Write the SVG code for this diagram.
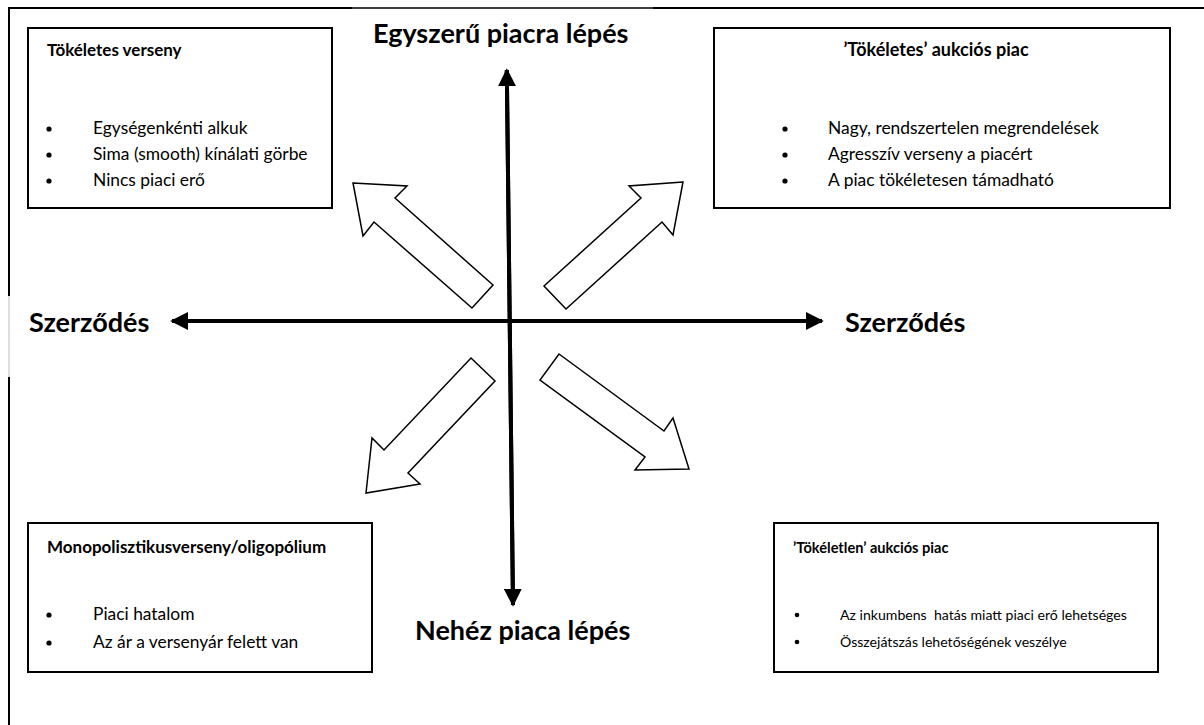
<svg xmlns="http://www.w3.org/2000/svg" width="1204" height="725" viewBox="0 0 1204 725">
<style>
text{font-family:Lato,"Liberation Sans",sans-serif;fill:#000}
.h{font-size:17px;font-weight:bold}
.h2{font-size:18px;font-weight:bold}
.t{font-size:17.4px}
.s{font-size:14.1px}
.sh{font-size:14.6px;font-weight:bold}
.big{font-size:27px;font-weight:bold}
.box{fill:#fff;stroke:#000;stroke-width:2}
.blk{fill:#fff;stroke:#000;stroke-width:1.5;stroke-linejoin:miter}
.axis{stroke:#000;stroke-width:4;fill:none}
</style>
<defs>
<marker id="ah" viewBox="0 0 10 10" refX="9" refY="5" markerWidth="4.5" markerHeight="4.5" markerUnits="strokeWidth" orient="auto">
<path d="M0,0 L10,5 L0,10 Z" fill="#000"/>
</marker>
</defs>
<rect width="1204" height="725" fill="#fff"/>
<g id="frame">
<line x1="9" y1="8" x2="9" y2="296" stroke="#000" stroke-width="2"/>
<line x1="9" y1="296" x2="9" y2="377" stroke="#bbb" stroke-width="1"/>
<line x1="9" y1="377" x2="9" y2="725" stroke="#000" stroke-width="2"/>
<line x1="8" y1="8" x2="352" y2="8" stroke="#000" stroke-width="2"/>
<line x1="352" y1="8" x2="653" y2="8" stroke="#000" stroke-width="1.5"/>
<line x1="653" y1="8" x2="1204" y2="8" stroke="#000" stroke-width="2"/>
</g>
<g id="connectors">
<line class="axis" x1="513" y1="605" x2="506.8" y2="70" marker-end="url(#ah)"/>
<line class="axis" x1="506.8" y1="70" x2="513" y2="605" marker-end="url(#ah)"/>
<line class="axis" x1="822" y1="321" x2="172" y2="321" marker-end="url(#ah)"/>
<line class="axis" x1="172" y1="321" x2="822" y2="321" marker-end="url(#ah)"/>
<polygon id="arrow-ul" class="blk" points="353,183 407,186 395,198 493,285 472,308 374,222 363,236"/>
<polygon id="arrow-ur" class="blk" points="683,182 629,186 641,198 544,286 566,309 662,222 673,235"/>
<polygon id="arrow-ll" class="blk" points="471,358 495,381 408,473 420,484 366,493 372,438 384,450"/>
<polygon id="arrow-lr" class="blk" points="559,354 664,431 673,418 689,469 635,470 645,457 540,380"/>
</g>
<g id="label-top"><text class="big" x="373" y="43">Egyszerű piacra lépés</text></g>
<g id="label-bottom"><text class="big" x="415" y="640">Nehéz piaca lépés</text></g>
<g id="label-left"><text class="big" x="29" y="332">Szerződés</text></g>
<g id="label-right"><text class="big" x="845" y="332">Szerződés</text></g>
<g id="box-tl">
<rect class="box" x="28" y="28" width="304" height="180"/>
<text class="h" x="47" y="56">Tökéletes verseny</text>
<circle cx="49" cy="129" r="2.6"/><text class="t" x="93" y="134">Egységenkénti alkuk</text>
<circle cx="49" cy="155" r="2.6"/><text class="t" x="93" y="160">Sima (smooth) kínálati görbe</text>
<circle cx="49" cy="181" r="2.6"/><text class="t" x="93" y="186">Nincs piaci erő</text>
</g>
<g id="box-tr">
<rect class="box" x="714" y="28" width="456" height="180"/>
<text class="h2" x="936" y="56" text-anchor="middle">’Tökéletes’ aukciós piac</text>
<circle cx="785" cy="129" r="2.6"/><text class="t" x="828" y="134">Nagy, rendszertelen megrendelések</text>
<circle cx="785" cy="155" r="2.6"/><text class="t" x="828" y="160">Agresszív verseny a piacért</text>
<circle cx="785" cy="181" r="2.6"/><text class="t" x="828" y="186">A piac tökéletesen támadható</text>
</g>
<g id="box-bl">
<rect class="box" x="28" y="523" width="344" height="149"/>
<text class="h" x="47" y="553">Monopolisztikusverseny/oligopólium</text>
<circle cx="49" cy="615" r="2.6"/><text class="t" x="93" y="620">Piaci hatalom</text>
<circle cx="49" cy="643" r="2.6"/><text class="t" x="93" y="648">Az ár a versenyár felett van</text>
</g>
<g id="box-br">
<rect class="box" x="774" y="523" width="384" height="149"/>
<text class="sh" x="793" y="553">’Tökéletlen’ aukciós piac</text>
<circle cx="797" cy="615" r="2.3"/><text class="s" x="840" y="620" xml:space="preserve">Az inkumbens  hatás miatt piaci erő lehetséges</text>
<circle cx="797" cy="642" r="2.3"/><text class="s" x="840" y="647">Összejátszás lehetőségének veszélye</text>
</g>
</svg>
